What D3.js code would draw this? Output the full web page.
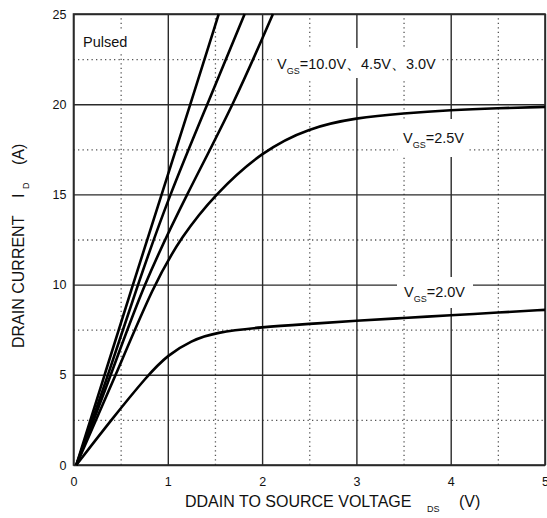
<!DOCTYPE html>
<html>
<head>
<meta charset="utf-8">
<script src="https://cdn.jsdelivr.net/npm/d3@7"></script>
<style>
  body { margin: 0; background: #fff; }
  text { font-family: "Liberation Sans", Arial, sans-serif; fill: #111; }
</style>
</head>
<body>
<div id="container"></div>
<script>
var width = 547,
    height = 518;

// V_DS (V), I_D (A)
var vgs10 = [[0.03, 0], [0.33, 5], [0.63, 10], [0.935, 15], [1.24, 20], [1.54, 25]];
var vgs45 = [[0.03, 0], [0.37, 5], [0.68, 10], [1.02, 15], [1.42, 20], [1.815, 25]];
var vgs30 = [[0.03, 0], [0.40, 5], [0.74, 10], [1.2, 15], [1.7, 20], [2.115, 25]];
var vgs25 = [[0.03, 0], [0.45, 5], [0.85, 10], [1.15, 12.7], [1.5, 15], [2.0, 17.4], [2.5, 18.7], [3.0, 19.25], [3.5, 19.5], [4.0, 19.68], [4.5, 19.78], [5.0, 19.85]];
var vgs20 = [[0.03, 0], [0.4, 2.5], [0.79, 5], [1.0, 6.1], [1.25, 6.9], [1.5, 7.35], [2.0, 7.65], [2.5, 7.82], [3.0, 8.0], [3.5, 8.15], [4.0, 8.3], [4.5, 8.45], [5.0, 8.6]];

var xTicks = [0, 1, 2, 3, 4, 5],
    xMinor = [0.5, 1.5, 2.5, 3.5, 4.5],
    yTicks = [0, 5, 10, 15, 20, 25],
    yMinor = [2.5, 7.5, 12.5, 17.5, 22.5];

var svg = d3.select("#container")
    .append("svg")
    .attr("width", width)
    .attr("height", height);

var x = d3.scaleLinear().domain([0, 5]).range([73.5, 545]);
var y = d3.scaleLinear().domain([0, 25]).range([465, 14]);

var gridG = svg.append("g"),
    labelG = svg.append("g"),
    curveG = svg.append("g");

// dotted minor grid
gridG.append("g")
    .attr("transform", "translate(0," + y(0) + ")")
    .call(d3.axisBottom(x).tickValues(xMinor).tickSize(-(y(0) - y(25))).tickFormat(""))
    .call(function (g) { g.select(".domain").remove(); })
    .selectAll("line")
    .attr("stroke", "#555")
    .attr("stroke-width", 1.3)
    .attr("stroke-dasharray", "1.3,3.2");

gridG.append("g")
    .attr("transform", "translate(" + x(0) + ",0)")
    .call(d3.axisLeft(y).tickValues(yMinor).tickSize(-(x(5) - x(0))).tickFormat(""))
    .call(function (g) { g.select(".domain").remove(); })
    .selectAll("line")
    .attr("stroke", "#555")
    .attr("stroke-width", 1.3)
    .attr("stroke-dasharray", "1.3,3.2");

// solid major grid + tick labels
var xAxisG = gridG.append("g")
    .attr("transform", "translate(0," + y(0) + ")")
    .call(d3.axisBottom(x).tickValues(xTicks).tickSize(-(y(0) - y(25))).tickPadding(8).tickFormat(d3.format("d")));
xAxisG.select(".domain").remove();
xAxisG.selectAll("line").attr("stroke", "#2a2a2a").attr("stroke-width", 1.4);
xAxisG.selectAll("text").attr("font-size", "12.5px").attr("fill", "#222").attr("dy", "1.05em")
    .style("font-family", "'Liberation Sans', Arial, sans-serif");

var yAxisG = gridG.append("g")
    .attr("transform", "translate(" + x(0) + ",0)")
    .call(d3.axisLeft(y).tickValues(yTicks).tickSize(-(x(5) - x(0))).tickPadding(7).tickFormat(d3.format("d")));
yAxisG.select(".domain").remove();
yAxisG.selectAll("line").attr("stroke", "#2a2a2a").attr("stroke-width", 1.4);
yAxisG.selectAll("text").attr("font-size", "12.5px").attr("fill", "#222")
    .style("font-family", "'Liberation Sans', Arial, sans-serif");

// frame
gridG.append("rect")
    .attr("x", x(0))
    .attr("y", y(25))
    .attr("width", x(5) - x(0))
    .attr("height", y(0) - y(25))
    .attr("fill", "none")
    .attr("stroke", "#2a2a2a")
    .attr("stroke-width", 1.6);

// in-plot labels (white boxes hide the grid behind them)
function boxLabel(bx, by, bw, bh) {
    labelG.append("rect")
        .attr("x", bx).attr("y", by)
        .attr("width", bw).attr("height", bh)
        .attr("fill", "#fff");
}

boxLabel(80, 30, 52, 24);
labelG.append("text")
    .attr("x", 83)
    .attr("y", 47)
    .attr("font-size", "14.5px")
    .text("Pulsed");

function vgsLabel(lx, ly, rest) {
    var t = labelG.append("text")
        .attr("x", lx)
        .attr("y", ly)
        .attr("font-size", "14.5px");
    t.append("tspan").text("V");
    t.append("tspan").attr("dy", 5).attr("font-size", "9px").text("GS");
    t.append("tspan").attr("dy", -5).text(rest);
}

boxLabel(272, 48, 170, 30);
vgsLabel(277, 69, "=10.0V、4.5V、3.0V");

boxLabel(398, 119, 70, 38);
vgsLabel(403, 143, "=2.5V");

boxLabel(397, 277, 76, 31);
vgsLabel(404, 297, "=2.0V");

// curves
var line = d3.line()
    .x(function (d) { return x(d[0]); })
    .y(function (d) { return y(d[1]); })
    .curve(d3.curveBasis);

curveG.selectAll("path")
    .data([vgs10, vgs45, vgs30, vgs25, vgs20])
    .enter()
    .append("path")
    .attr("d", line)
    .attr("fill", "none")
    .attr("stroke", "#000")
    .attr("stroke-width", 2.6);

// axis titles
var xt = svg.append("text")
    .attr("x", 185)
    .attr("y", 507)
    .attr("font-size", "16px");
xt.append("tspan").text("DDAIN TO SOURCE VOLTAGE");
xt.append("tspan").attr("x", 427).attr("dy", 5).attr("font-size", "9px").text("DS");
xt.append("tspan").attr("x", 459).attr("dy", -5).text("(V)");

var yt = svg.append("text")
    .attr("transform", "translate(24,348) rotate(-90)")
    .attr("font-size", "16px");
yt.append("tspan").attr("x", 0).text("DRAIN CURRENT");
yt.append("tspan").attr("x", 150).text("I");
yt.append("tspan").attr("x", 159).attr("dy", 5).attr("font-size", "9px").text("D");
yt.append("tspan").attr("x", 183).attr("dy", -5).text("(A)");
</script>
</body>
</html>
